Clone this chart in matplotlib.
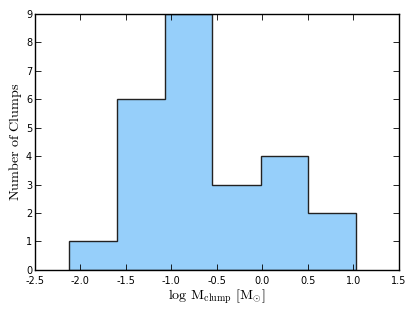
import numpy as np
import matplotlib
matplotlib.use('Agg')
import matplotlib.pyplot as plt

# histogram of clump masses (log M_clump)
bin_edges = [-2.13, -1.60, -1.07, -0.55, -0.02, 0.50, 1.03]
counts = [1, 6, 9, 3, 4, 2]

x_ticks = [-2.5, -2.0, -1.5, -1.0, -0.5, 0.0, 0.5, 1.0, 1.5]
y_ticks = [0, 1, 2, 3, 4, 5, 6, 7, 8, 9]

plt.rcParams['mathtext.fontset'] = 'cm'

fig = plt.figure(figsize=(4.15, 3.12), dpi=100)
ax = fig.add_axes([0.084, 0.135, 0.877, 0.82])

ax.hist(bin_edges[:-1], bins=bin_edges, weights=counts,
        histtype='stepfilled', facecolor='#96cffa', edgecolor='#222222',
        linewidth=1.0)

ax.set_xlim(-2.5, 1.5)
ax.set_ylim(0, 9)
ax.set_xticks(x_ticks)
ax.set_yticks(y_ticks)
ax.set_xticklabels(['%.1f' % t for t in x_ticks])
ax.tick_params(direction='in', top=True, right=True, labelsize=7,
               length=4, width=0.6)
ax.tick_params(axis='x', pad=4.5)
ax.tick_params(axis='y', pad=2)
for s in ax.spines.values():
    s.set_linewidth(1.0)

ax.set_xlabel(r'$\mathrm{log}\ \mathrm{M}_{\mathrm{clump}}\ [\mathrm{M}_{\odot}]$',
              fontsize=10.2, labelpad=1)
ax.set_ylabel(r'$\mathrm{Number\ of\ Clumps}$', fontsize=10.2, labelpad=1)

fig.savefig('out.png', dpi=100, facecolor='white')
